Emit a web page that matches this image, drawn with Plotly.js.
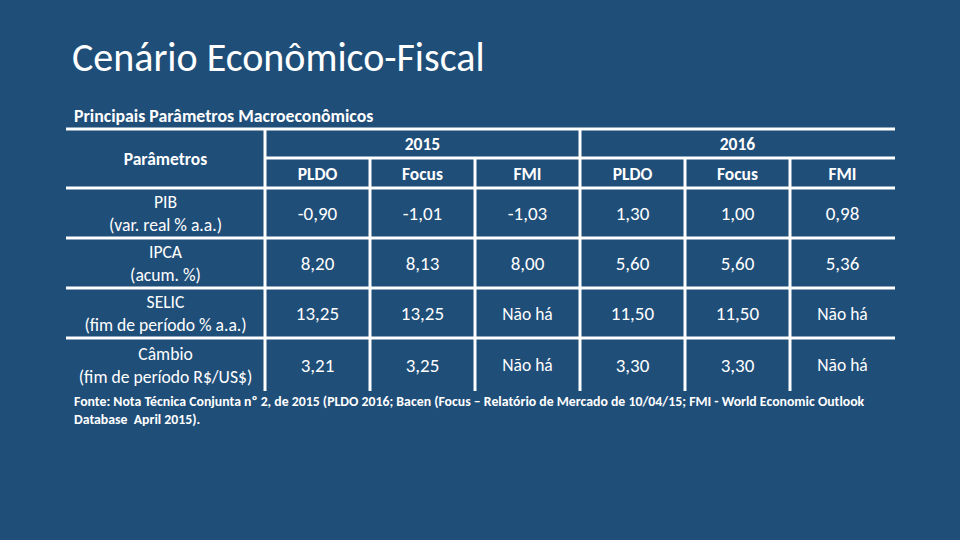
<!DOCTYPE html>
<html>
<head>
<meta charset="utf-8">
<script src="https://cdn.plot.ly/plotly-3.0.1.min.js"></script>
<style>html,body{margin:0;padding:0;background:#1f4e79;}#chart{width:960px;height:540px;}</style>
</head>
<body>
<div id="chart"></div>
<script>
// ---- data ----
const years = ['2015', '2016'];
const sources = ['PLDO', 'Focus', 'FMI'];
const parameters = [
  'PIB<br>(var. real % a.a.)',
  'IPCA<br>(acum. %)',
  'SELIC<br>(fim de período % a.a.)',
  'Câmbio<br>(fim de período R$/US$)'
];
const pldo2015  = ['-0,90', '8,20', '13,25', '3,21'];
const focus2015 = ['-1,01', '8,13', '13,25', '3,25'];
const fmi2015   = ['-1,03', '8,00', 'Não há', 'Não há'];
const pldo2016  = ['1,30', '5,60', '11,50', '3,30'];
const focus2016 = ['1,00', '5,60', '11,50', '3,30'];
const fmi2016   = ['0,98', '5,36', 'Não há', 'Não há'];
const valueColumns = [pldo2015, focus2015, fmi2015, pldo2016, focus2016, fmi2016];

// ---- layout constants (pixel units on hidden axes) ----
const colEdges = [66, 265, 370, 475, 580, 685, 790, 895];
const rowEdges = [129, 158, 188, 238, 288, 338, 391];
const textDy = 2.5;
const bg = '#1f4e79';
const white = '#ffffff';
const FONT = 'Calibri, Carlito, "Open Sans", sans-serif';

const mid = (a, b) => (a + b) / 2;
const colC = i => mid(colEdges[i], colEdges[i + 1]);
const rowC = i => mid(rowEdges[i], rowEdges[i + 1]) + textDy;

const traces = [];

// header: Parâmetros
traces.push({
  type: 'scatter', mode: 'text', hoverinfo: 'skip', showlegend: false,
  x: [colC(0)], y: [mid(rowEdges[0], rowEdges[2]) + textDy], text: ['Parâmetros'],
  textfont: {family: FONT, size: 17.5, color: white, weight: 'bold'}
});
// header: years
traces.push({
  type: 'scatter', mode: 'text', hoverinfo: 'skip', showlegend: false,
  x: years.map((_, k) => mid(colEdges[1 + 3 * k], colEdges[4 + 3 * k])),
  y: years.map(() => rowC(0)),
  text: years,
  textfont: {family: FONT, size: 17.5, color: white, weight: 'bold'}
});
// header: sources
const srcX = [], srcY = [], srcT = [];
years.forEach((_, k) => sources.forEach((s, j) => {
  srcX.push(colC(1 + 3 * k + j)); srcY.push(rowC(1)); srcT.push(s);
}));
traces.push({
  type: 'scatter', mode: 'text', hoverinfo: 'skip', showlegend: false,
  x: srcX, y: srcY, text: srcT,
  textfont: {family: FONT, size: 17.5, color: white, weight: 'bold'}
});
// row labels
traces.push({
  type: 'scatter', mode: 'text', hoverinfo: 'skip', showlegend: false,
  x: parameters.map(() => colC(0)),
  y: parameters.map((_, r) => rowC(2 + r)),
  text: parameters,
  textfont: {family: FONT, size: 17.6, color: white}
});
// values
const vx = [], vy = [], vt = [], vs = [];
valueColumns.forEach((col, c) => col.forEach((v, r) => {
  vx.push(colC(1 + c)); vy.push(rowC(2 + r)); vt.push(v);
  vs.push(/\d/.test(v) ? 19 : 17.5);
}));
traces.push({
  type: 'scatter', mode: 'text', hoverinfo: 'skip', showlegend: false,
  x: vx, y: vy, text: vt,
  textfont: {family: FONT, size: vs, color: white}
});

// ---- table borders ----
const shapes = [];
const hline = (y, x0, x1) => shapes.push({type: 'line', xref: 'x', yref: 'y', x0, x1, y0: y, y1: y, line: {color: white, width: 3}});
const vline = (x, y0, y1) => shapes.push({type: 'line', xref: 'x', yref: 'y', x0: x, x1: x, y0, y1, line: {color: white, width: 3}});
const L = colEdges[0], R = colEdges[colEdges.length - 1], B = rowEdges[rowEdges.length - 1];
hline(rowEdges[0], L, R);
hline(rowEdges[1], colEdges[1], R);
for (let r = 2; r < rowEdges.length - 1; r++) hline(rowEdges[r], L, R);
vline(colEdges[1], rowEdges[0], B);
vline(colEdges[4], rowEdges[0], B);
[2, 3, 5, 6].forEach(c => vline(colEdges[c], rowEdges[1], B));

const layout = {
  width: 960, height: 540,
  paper_bgcolor: bg, plot_bgcolor: bg,
  margin: {l: 0, r: 0, t: 0, b: 0},
  xaxis: {range: [0, 960], visible: false, fixedrange: true},
  yaxis: {range: [540, 0], visible: false, fixedrange: true},
  title: {
    text: 'Cenário Econômico-Fiscal',
    x: 72 / 960, xanchor: 'left', xref: 'container',
    y: 1 - 57 / 540, yanchor: 'middle', yref: 'container',
    font: {family: FONT, size: 40, color: white}
  },
  shapes: shapes,
  annotations: [
    {
      xref: 'x', yref: 'y', x: 72, y: 116, xanchor: 'left', yanchor: 'middle',
      text: 'Principais Parâmetros Macroeconômicos', showarrow: false,
      font: {family: FONT, size: 17.8, color: white, weight: 'bold'}
    },
    {
      xref: 'x', yref: 'y', x: 72, y: 391, xanchor: 'left', yanchor: 'top', align: 'left',
      text: 'Fonte: Nota Técnica Conjunta nº 2, de 2015 (PLDO 2016; Bacen (Focus – Relatório de Mercado de 10/04/15; FMI - World Economic Outlook<br>Database  April 2015).',
      showarrow: false,
      font: {family: FONT, size: 13.8, color: white, weight: 'bold'}
    }
  ]
};

Plotly.newPlot('chart', traces, layout, {displayModeBar: false, staticPlot: true});
</script>
</body>
</html>
